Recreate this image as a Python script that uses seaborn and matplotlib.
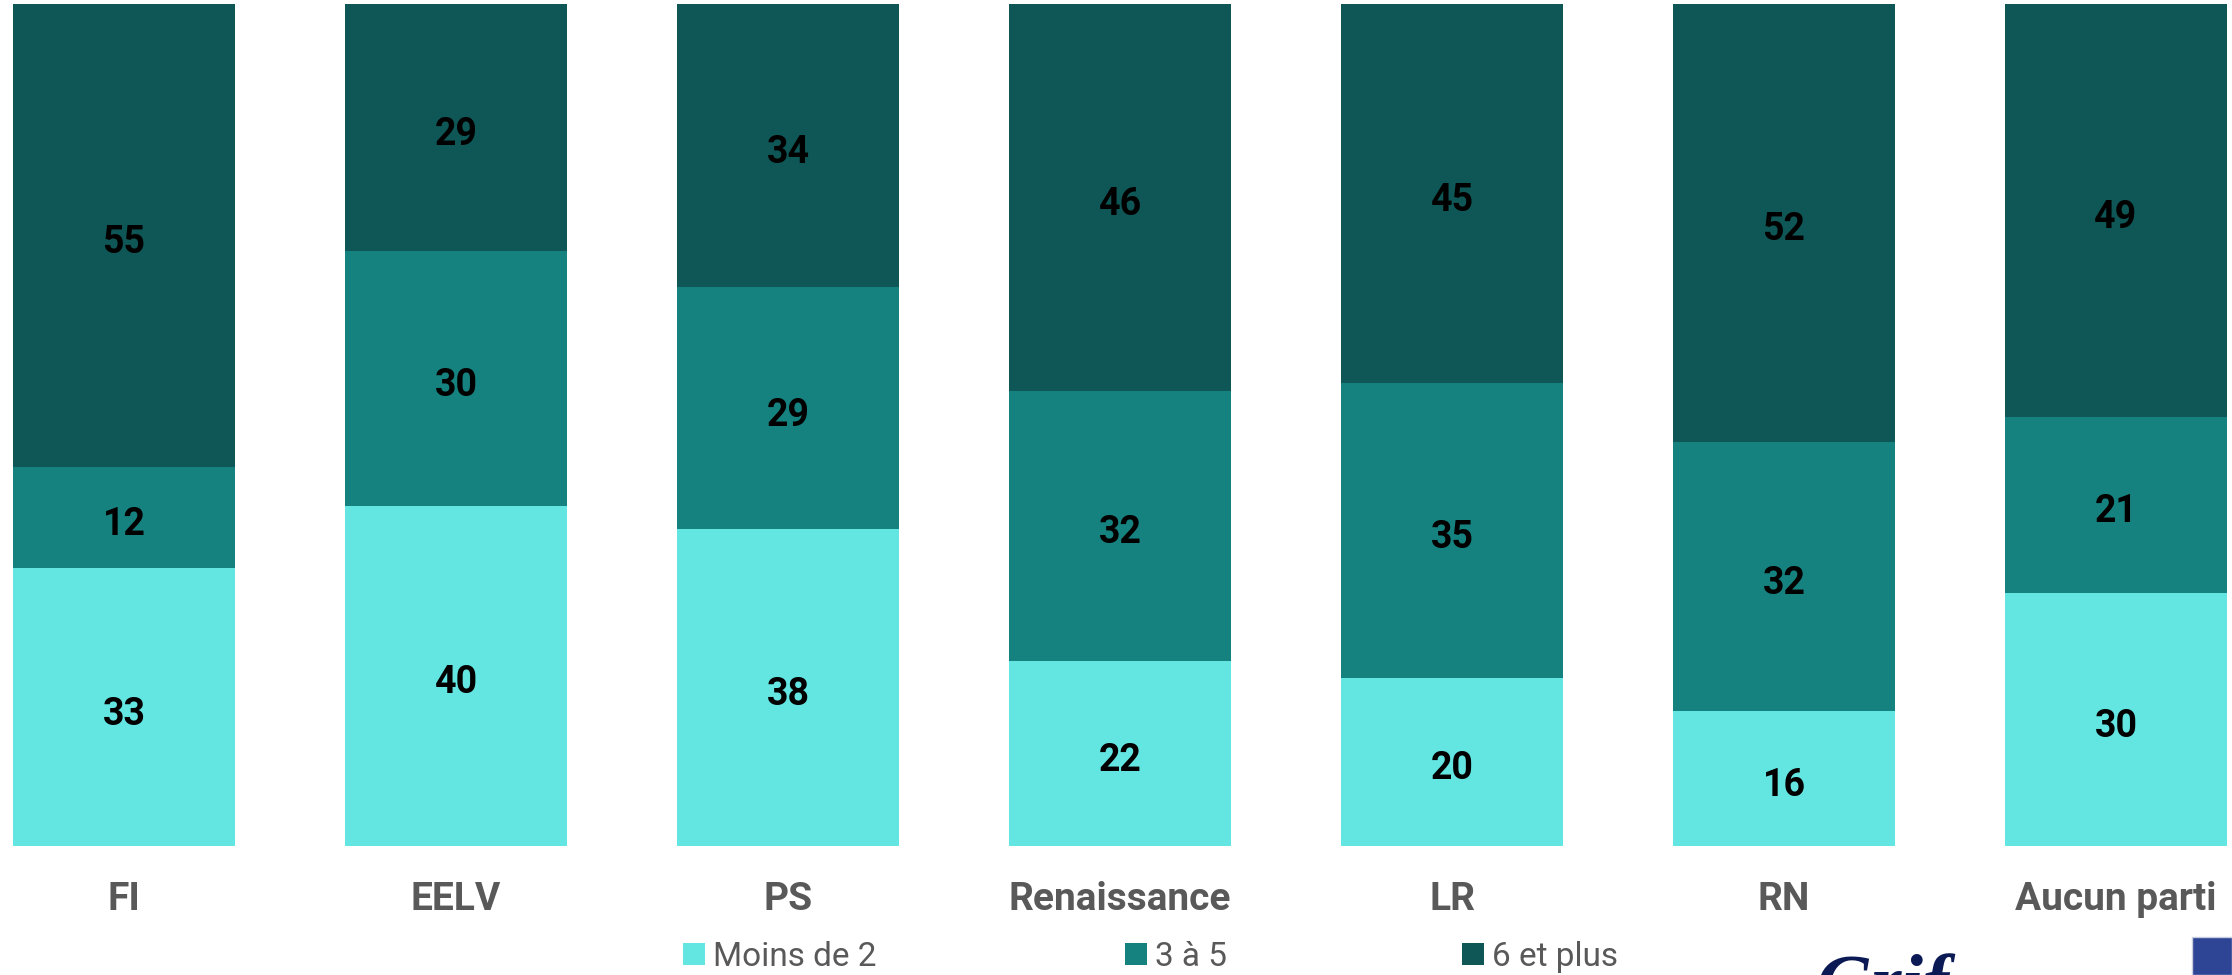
import numpy as np
import pandas as pd
import matplotlib
matplotlib.use("Agg")
import matplotlib.pyplot as plt
from matplotlib.patches import Patch, Rectangle
import seaborn as sns

# ---- data ----
categories = ["FI", "EELV", "PS", "Renaissance", "LR", "RN", "Aucun parti"]
moins_de_2 = [33, 40, 38, 22, 20, 16, 30]
trois_a_5 = [12, 30, 29, 32, 35, 32, 21]
six_et_plus = [55, 29, 34, 46, 45, 52, 49]
series_names = ["Moins de 2", "3 à 5", "6 et plus"]
colors = ["#63E5E2", "#168280", "#0E5756"]

sns.set_theme(style="white")
plt.rcParams["font.family"] = ["Roboto", "DejaVu Sans"]

W, H = 2232, 975
fig = plt.figure(figsize=(W / 100, H / 100), dpi=100)
fig.patch.set_facecolor("white")

ax_bottom = 1 - 846 / H
ax_top = 1 - 4 / H
ax = fig.add_axes([0, ax_bottom, 1, ax_top - ax_bottom])

df = pd.DataFrame({
    "cat": categories,
    "a": moins_de_2,
    "b": trois_a_5,
    "c": six_et_plus,
})
tot = df["a"] + df["b"] + df["c"]
# 100% stacked: normalise each bar to its total
df["pa"] = df["a"] / tot * 100
df["pb"] = df["b"] / tot * 100
df["pc"] = df["c"] / tot * 100
df["cum_a"] = df["pa"]
df["cum_b"] = df["pa"] + df["pb"]
df["cum_c"] = df["pa"] + df["pb"] + df["pc"]

bw = 0.669
for col, colr in zip(["cum_c", "cum_b", "cum_a"], colors[::-1]):
    sns.barplot(data=df, x="cat", y=col, color=colr, width=bw, ax=ax,
                saturation=1, edgecolor="none", linewidth=0, order=categories)

# value labels
for i, row in df.iterrows():
    segs = [(0, row["cum_a"], row["a"]),
            (row["cum_a"], row["cum_b"], row["b"]),
            (row["cum_b"], row["cum_c"], row["c"])]
    for lo, hi, v in segs:
        ax.annotate(f"{v:d}", xy=(i, (lo + hi) / 2), xytext=(0, -5),
                    textcoords="offset points", ha="center", va="center",
                    fontsize=27, fontweight="bold", color="black")

px = 332.0
c0 = 124.0
ax.set_xlim(-c0 / px, (W - c0) / px)
ax.set_ylim(0, 100)
ax.set_xlabel("")
ax.set_ylabel("")
ax.set_yticks([])
ax.tick_params(axis="x", length=0, pad=25)
for lab in ax.get_xticklabels():
    lab.set_fontsize(28)
    lab.set_fontweight("bold")
    lab.set_color("#595959")
sns.despine(ax=ax, left=True, bottom=True, top=True, right=True)

# legend: three entries at their positions
leg_x = [683, 1125, 1462]
leg_y = 1 - 957 / H
for name, colr, lx in zip(series_names, colors, leg_x):
    h = Patch(facecolor=colr, edgecolor="none")
    lg = fig.legend([h], [name], loc="center left",
                    bbox_to_anchor=(lx / W, leg_y), frameon=False,
                    borderaxespad=0, borderpad=0, handlelength=0.65,
                    handleheight=0.65, handletextpad=0.25,
                    prop={"size": 24, "family": ["Roboto", "DejaVu Sans"]})
    for t in lg.get_texts():
        t.set_color("#595959")

# partially visible logos at bottom right (cropped in the original)
fig.text(1815 / W, 1 - 953 / H, "Grif", ha="left", va="top",
         fontsize=56, fontstyle="italic", fontweight="bold",
         family=["Liberation Serif", "DejaVu Serif"], color="#0B1A55")
fig.patches.append(Rectangle((2192 / W, 0), (W - 2192) / W, (975 - 937) / H,
                             transform=fig.transFigure, facecolor="#2E4596",
                             edgecolor="#C8CCE0", linewidth=1))

fig.savefig("out.png", dpi=100)
